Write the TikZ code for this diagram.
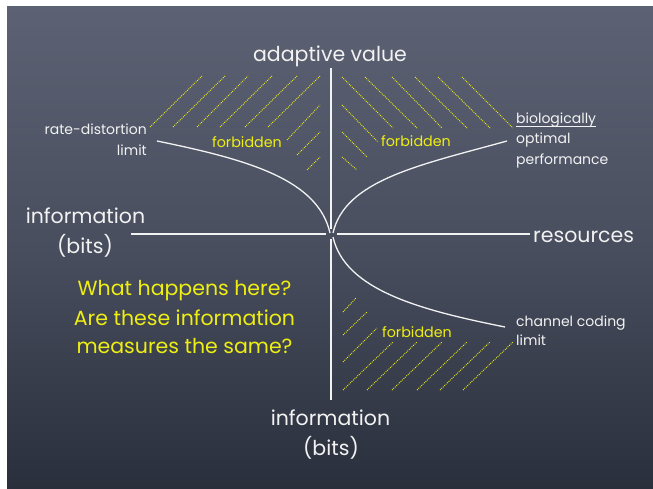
\documentclass[tikz,border=0pt]{standalone}
\usepackage{fontspec}
\setmainfont{Poppins}
\definecolor{chalkw}{HTML}{F2F2F2}
\definecolor{chalky}{HTML}{EEEE12}
\definecolor{boardtop}{HTML}{5C6273}
\definecolor{boardmid}{HTML}{484E5E}
\definecolor{boardbot}{HTML}{2A2F3C}
\begin{document}
\begin{tikzpicture}[x=1pt,y=-1pt,
 axis/.style={draw=chalkw, line width=2.6pt},
 curve/.style={draw=chalkw, line width=1.3pt},
 hatch/.style={draw=chalky, line width=0.9pt, dash pattern=on 0.9pt off 1.1pt},
 big/.style={text=chalkw, font=\fontsize{20.5}{24}\selectfont, inner sep=0pt, anchor=base},
 small/.style={text=chalkw, font=\fontsize{14}{16}\selectfont, inner sep=0pt, anchor=base},
 forb/.style={text=chalky, font=\fontsize{14.3}{16}\selectfont, inner sep=0pt, anchor=base},
 ques/.style={text=chalky, font=\fontsize{20.5}{24}\selectfont, inner sep=0pt, anchor=base}]
\useasboundingbox (0,0) rectangle (653,489);
\fill[white] (0,0) rectangle (653,489);
\shade[top color=boardtop, bottom color=boardbot, middle color=boardmid] (7,7) rectangle (653,489);

% axes
\coordinate (hl) at (131,234); \coordinate (hlm) at (326,234);
\coordinate (hrm) at (337,234); \coordinate (hr) at (530,234);
\coordinate (vt) at (331,68);  \coordinate (vtm) at (331,229);
\coordinate (vbm) at (331,239); \coordinate (vb) at (331,400);
\draw[axis] (hl) -- (hlm);
\draw[axis] (hrm) -- (hr);
\draw[axis] (vt) -- (vtm);
\draw[axis] (vbm) -- (vb);

% curves
\coordinate (o1) at (330,233); \coordinate (o2) at (333,233); \coordinate (o3) at (333,237);
\coordinate (rd) at (157,141); \coordinate (bo) at (507,141); \coordinate (cc) at (505,327);
\draw[curve] (rd) .. controls (250,160) and (318,180) .. (o1);
\draw[curve] (o2) .. controls (345,180) and (420,165) .. (bo);
\draw[curve] (o3) .. controls (345,290) and (420,310) .. (cc);

% hatching upper left
\foreach \a/\b/\c/\d in {150/127/202/76, 173/127/225/76, 197/127/248/76, 220/127/272/76,
  245/127/297/76, 268/127/320/76, 287/140/320/105, 297/155/320/132, 307/170/320/157}
  \draw[hatch] (\a,\b) -- (\c,\d);
% hatching upper right
\foreach \a/\b/\c/\d in {342/77/393/128, 365/77/417/128, 392/77/442/128, 415/77/467/128,
  438/77/490/128, 462/77/513/128, 342/105/378/142, 342/132/367/157, 342/157/357/170}
  \draw[hatch] (\a,\b) -- (\c,\d);
% hatching lower right
\foreach \a/\b/\c/\d in {343/312/356/298, 343/335/367/312, 343/362/377/328, 343/390/393/342,
  367/390/417/342, 392/390/442/342, 417/390/467/342, 440/390/490/342, 463/390/513/342}
  \draw[hatch] (\a,\b) -- (\c,\d);

% labels
\node[big] (av) at (330,62) {adaptive value};
\node[big] (il1) at (85.5,223) {information};
\node[big] (il2) at (85,253) {(bits)};
\node[big, anchor=base west] (res) at (533,243) {resources};
\node[big] (ib1) at (330.5,425) {information};
\node[big] (ib2) at (331,455) {(bits)};

\node[small, anchor=base east] (rd1) at (147,135) {rate-distortion};
\node[small, anchor=base east] (rd2) at (147,156) {limit};
\node[small, anchor=base west] (bo1) at (516,124) {biologically};
\draw[chalkw, line width=0.9pt] ([yshift=-2.5pt]bo1.base west) -- ([yshift=-2.5pt]bo1.base east);
\node[small, anchor=base west] (bo2) at (516,144) {optimal};
\node[small, anchor=base west] (bo3) at (516,165) {performance};
\node[small, anchor=base west] (cc1) at (516,326) {channel coding};
\node[small, anchor=base west] (cc2) at (516,345) {limit};

\node[forb] (f1) at (247,148) {forbidden};
\node[forb] (f2) at (416,147) {forbidden};
\node[forb] (f3) at (417,337) {forbidden};

\node[ques] (q1) at (184.5,295) {What happens here?};
\node[ques] (q2) at (184.5,325) {Are these information};
\node[ques] (q3) at (184.5,353) {measures the same?};
\end{tikzpicture}
\end{document}
